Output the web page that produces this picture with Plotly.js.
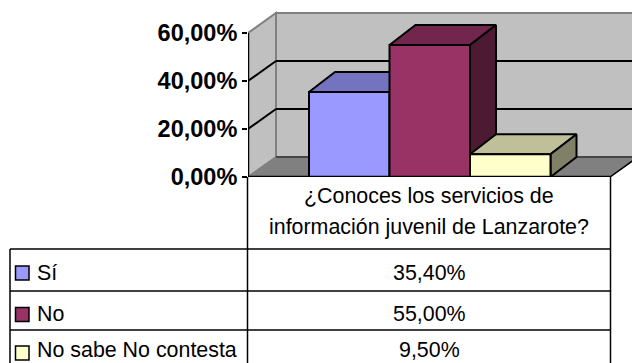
<!DOCTYPE html>
<html><head><meta charset="utf-8">
<script src="https://cdn.plot.ly/plotly-3.0.1.min.js"></script>
<style>html,body{margin:0;padding:0;background:#fff}</style></head>
<body><div id="c" style="width:632px;height:363px"></div>
<script>
var questionLines = ["¿Conoces los servicios de", "información juvenil de Lanzarote?"];
var seriesNames = ["Sí", "No", "No sabe No contesta"];
var seriesValues = [35.4, 55.0, 9.5];
var seriesLabels = ["35,40%", "55,00%", "9,50%"];
var frontColors = ["#9999ff", "#993366", "#ffffcc"];
var topColors = ["#7373bf", "#73264d", "#bfbf99"];
var sideColors = ["#4d4d80", "#4d1a33", "#808066"];
var tickValues = [0, 20, 40, 60];
var tickLabels = ["0,00%", "20,00%", "40,00%", "60,00%"];

var W = 632, H = 363, L = 248, T = 10, B = 177;
var pxPerPct = 2.4, barPx = 80.5;
var xMax = (W - L) / barPx, yMax = (B - T) / pxPerPct;
var dx = 26 / barPx, dy = 20 / pxPerPct;
var wx = 28 / barPx, wy = 20 / pxPerPct;
var floorRight = (610 - L) / barPx;
var firstCentre = (309 - L) / barPx + 0.5;
var centres = seriesValues.map(function (_, i) { return firstCentre + i; });

function py(y) { return 1 - (y - T) / (B - T); }
function pxx(x) { return (x - L) / (W - L); }

var traces = [];
function face(xs, ys, fill) {
  traces.push({type: "scatter", mode: "lines", fill: "toself", fillcolor: fill, x: xs, y: ys,
    line: {color: "#000", width: 2}, hoverinfo: "skip", showlegend: false});
}
seriesValues.forEach(function (v, i) {
  var a = centres[i] - 0.5, b = centres[i] + 0.5;
  face([a, b, b + dx, a + dx, a], [v, v, v + dy, v + dy, v], topColors[i]);
  face([b, b + dx, b + dx, b, b], [0, dy, v + dy, v, 0], sideColors[i]);
  face([a, b, b, a, a], [0, 0, v, v, 0], frontColors[i]);
});

var shapes = [];
function poly(pts, fill, col, w) {
  shapes.push({type: "path", layer: "below", xref: "x", yref: "y",
    path: "M" + pts.map(function (p) { return p[0] + "," + p[1]; }).join("L") + "Z",
    fillcolor: fill, line: {color: col, width: w}});
}
function seg(x0, y0, x1, y1, col, w) {
  shapes.push({type: "line", layer: "below", xref: "x", yref: "y",
    x0: x0, y0: y0, x1: x1, y1: y1, line: {color: col, width: w}});
}
poly([[0, 0], [wx, wy], [wx, 60 + wy], [0, 60]], "#c0c0c0", "#808080", 2);
poly([[wx, wy], [xMax + 1, wy], [xMax + 1, 60 + wy], [wx, 60 + wy]], "#c0c0c0", "#808080", 2);
poly([[0, 0], [wx, wy], [floorRight + wx, wy], [floorRight, 0]], "#808080", "#808080", 1);
[20, 40].forEach(function (t) {
  seg(0, t, wx, t + wy, "#000", 2);
  seg(wx, t + wy, xMax + 1, t + wy, "#000", 2);
});
seg(wx, wy, xMax + 1, wy, "#333", 1.5);
seg(0, 0, 0, 60, "#000", 2.5);
seg(floorRight, 0, floorRight + wx, wy, "#000", 1.5);
shapes.push({type: "line", layer: "above", xref: "x", yref: "y", x0: 0, y0: 0, x1: floorRight, y1: 0,
  line: {color: "#000", width: 2.5}});

function ln(x0, y0, x1, y1) {
  shapes.push({type: "line", layer: "above", xref: "paper", yref: "paper",
    x0: pxx(x0), x1: pxx(x1), y0: py(y0), y1: py(y1), line: {color: "#000", width: 1.5}});
}
var colL = 10, colM = 247.5, colR = 610.5;
ln(colM, B, colM, H); ln(colR, B, colR, H); ln(colL, 249, colL, H);
[249, 291, 330].forEach(function (y) { ln(colL, y, colR, y); });

var annos = [];
function txt(s, x, y, anchor) {
  annos.push({xref: "paper", yref: "paper", x: pxx(x), y: py(y), text: s, showarrow: false,
    xanchor: anchor, yanchor: "middle", borderpad: 0, borderwidth: 0,
    font: {family: "Liberation Sans, Arial, sans-serif", size: 21.4, color: "#000"}});
}
txt(questionLines[0], 429, 196, "center");
txt(questionLines[1], 429, 227, "center");
var rowMid = [273, 314, 350];
var keyMid = [273, 314.5, 353];
seriesNames.forEach(function (n, i) {
  txt(n, 37, rowMid[i], "left");
  txt(seriesLabels[i], 429, rowMid[i], "center");
  var m = keyMid[i];
  shapes.push({type: "rect", layer: "above", xref: "paper", yref: "paper",
    x0: pxx(15.5), x1: pxx(29), y0: py(m - 7), y1: py(m + 7),
    fillcolor: frontColors[i], line: {color: "#000", width: 1.5}});
});

Plotly.newPlot("c", traces, {
  width: W, height: H, autosize: false,
  margin: {l: L, r: 0, t: T, b: H - B, pad: 0},
  paper_bgcolor: "#fff", plot_bgcolor: "rgba(0,0,0,0)",
  showlegend: false,
  xaxis: {range: [0, xMax], showgrid: false, zeroline: false, showticklabels: false, ticks: "", showline: false},
  yaxis: {range: [0, yMax], showgrid: false, zeroline: false, showline: false,
    tickmode: "array", tickvals: tickValues, ticktext: tickLabels, ticks: "outside", ticklen: 5, tickwidth: 2, tickcolor: "#000",
    tickfont: {family: "Liberation Sans, Arial, sans-serif", size: 23.5, color: "#000", weight: "bold"}},
  shapes: shapes, annotations: annos
}, {displayModeBar: false, staticPlot: true});
</script></body></html>
